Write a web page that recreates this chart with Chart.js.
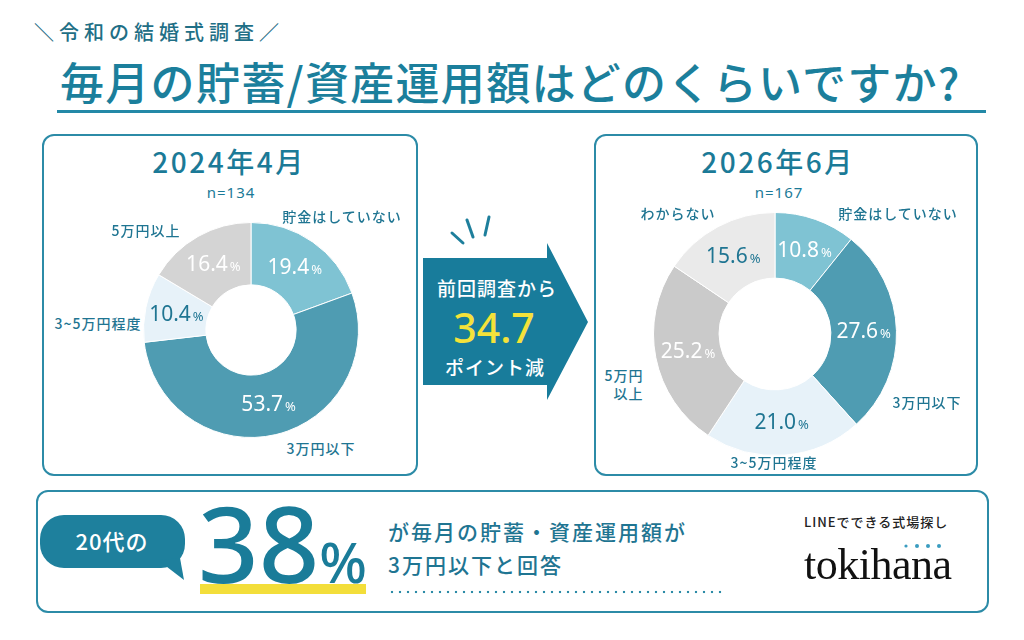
<!DOCTYPE html>
<html lang="ja">
<head>
<meta charset="UTF-8">
<title>毎月の貯蓄/資産運用額はどのくらいですか?</title>
<script src="https://cdn.jsdelivr.net/npm/chart.js"></script>
<style>
    body {
        margin: 0;
        background: #fff;
        font-family: "Noto Sans CJK JP", "Noto Sans", sans-serif;
        color: #1f7592;
    }

    #page {
        position: relative;
        width: 1024px;
        height: 640px;
        overflow: hidden;
    }

    .abs { position: absolute; white-space: nowrap; line-height: 1.05; }
    .c { transform: translate(-50%, -50%); }
    .lm { transform: translate(0, -50%); }

    .box {
        position: absolute;
        border: 2px solid #2c8ba7;
        border-radius: 12px;
        box-sizing: border-box;
    }

    .cat {
        font-size: 14px;
        font-weight: 500;
        letter-spacing: 1px;
        line-height: 18px;
    }

    .year {
        font-size: 28px;
        font-weight: 500;
        letter-spacing: 2.5px;
        line-height: 1;
        color: #1b7a97;
    }

    .n {
        font-family: "Noto Sans", sans-serif;
        font-size: 15px;
        letter-spacing: 1px;
        line-height: 1;
        color: #1b7a97;
    }

    .chartBox { position: absolute; }
</style>
</head>
<body>
<div id="page">
    <div class="abs lm" style="left:34px; top:31px; font-size:20px; font-weight:500; letter-spacing:5px; color:#1f6f86;">＼令和の結婚式調査／</div>
    <div class="abs lm" style="left:60px; top:81px; font-size:44px; font-weight:500; letter-spacing:1.3px; color:#1b7f9c;">毎月の貯蓄/資産運用額はどのくらいですか?</div>
    <div class="abs" style="left:57px; top:110px; width:929px; height:3px; background:#2389a7;"></div>

    <!-- left panel -->
    <div class="box" style="left:42px; top:134px; width:376px; height:342px;"></div>
    <div class="abs c year" style="left:229px; top:161px;">2024年4月</div>
    <div class="abs c n" style="left:231px; top:192px;">n=134</div>
    <div class="chartBox" style="left:143px; top:222px; width:216px; height:216px;"><canvas id="leftChart"></canvas></div>
    <div class="abs c cat" style="left:342px; top:216px;">貯金はしていない</div>
    <div class="abs c cat" style="left:321px; top:448px;">3万円以下</div>
    <div class="abs c cat" style="left:98px; top:323px;">3~5万円程度</div>
    <div class="abs c cat" style="left:146px; top:230px;">5万円以上</div>

    <!-- arrow -->
    <svg class="abs" style="left:410px; top:200px;" width="190" height="210">
        <polygon points="13,58 137,58 137,43 178,122 137,200 137,185 13,185" fill="#187c9b"/>
        <g stroke="#1e7f9c" stroke-width="3" stroke-linecap="round">
            <line x1="42" y1="33" x2="53" y2="43"/>
            <line x1="57" y1="20" x2="63" y2="37"/>
            <line x1="79" y1="17" x2="75" y2="35"/>
        </g>
    </svg>
    <div class="abs c" style="left:497px; top:287px; font-size:19px; font-weight:500; letter-spacing:1px; line-height:1; color:#fff;">前回調査から</div>
    <div class="abs c" style="left:494px; top:327px; font-family:'Noto Sans',sans-serif; font-size:41px; font-weight:500; line-height:1; color:#f4e23a;">34.7</div>
    <div class="abs c" style="left:495px; top:366px; font-size:19px; font-weight:500; letter-spacing:1px; line-height:1; color:#fff;">ポイント減</div>

    <!-- right panel -->
    <div class="box" style="left:594px; top:134px; width:384px; height:342px;"></div>
    <div class="abs c year" style="left:778px; top:161px;">2026年6月</div>
    <div class="abs c n" style="left:779px; top:192px;">n=167</div>
    <div class="chartBox" style="left:653px; top:212px; width:244px; height:244px;"><canvas id="rightChart"></canvas></div>
    <div class="abs c cat" style="left:898px; top:213px;">貯金はしていない</div>
    <div class="abs c cat" style="left:927px; top:402px;">3万円以下</div>
    <div class="abs c cat" style="left:774px; top:462px;">3~5万円程度</div>
    <div class="abs c cat" style="left:624px; top:384px; text-align:right;">5万円<br>以上</div>
    <div class="abs c cat" style="left:678px; top:213px;">わからない</div>

    <!-- bottom panel -->
    <div class="box" style="left:36px; top:490px; width:953px; height:123px;"></div>
    <div class="abs" style="left:40px; top:515px; width:145px; height:53px; border-radius:24px; background:#1e809d;"></div>
    <svg class="abs" style="left:150px; top:550px;" width="40" height="35">
        <polygon points="8,10 30,8 34,30" fill="#1e809d"/>
    </svg>
    <div class="abs c" style="left:112px; top:541px; font-size:22px; font-weight:500; letter-spacing:1px; color:#fff;">20代の</div>
    <div class="abs" style="left:200px; top:584px; width:166px; height:10px; background:#f3de3a;"></div>
    <div class="abs" style="left:198px; top:482px; font-family:'Noto Sans',sans-serif; font-size:106px; font-weight:500; line-height:120px; color:#1a7c99;">38<span style="font-size:56px;">%</span></div>
    <div class="abs lm" style="left:388px; top:531px; font-size:21px; font-weight:500; letter-spacing:2px;">が毎月の貯蓄・資産運用額が</div>
    <div class="abs lm" style="left:388px; top:564px; font-size:21px; font-weight:500; letter-spacing:2px;">3万円以下と回答</div>
    <div class="abs" style="left:388px; top:590px; width:336px; height:4px; background-image:radial-gradient(circle, #2c8ba7 1.2px, transparent 1.6px); background-size:8px 4px;"></div>
    <div class="abs lm" style="left:804px; top:522px; font-size:13px; font-weight:500; letter-spacing:1px; color:#222;">LINEでできる式場探し</div>
    <svg class="abs" style="left:900px; top:541px;" width="50" height="10">
        <g fill="#3a9cc0">
            <circle cx="6" cy="5" r="1.6"/>
            <circle cx="17" cy="5" r="2"/>
            <circle cx="28" cy="5" r="2"/>
            <circle cx="39" cy="5" r="2"/>
        </g>
    </svg>
    <div class="abs" style="left:804px; top:543px; font-family:'Liberation Serif',serif; font-size:44px; line-height:44px; letter-spacing:-0.5px; color:#111;">tokihana</div>
</div>

<script>
    const leftLabels = ['貯金はしていない', '3万円以下', '3~5万円程度', '5万円以上'];
    const leftValues = [19.4, 53.7, 10.4, 16.4];

    const rightLabels = ['貯金はしていない', '3万円以下', '3~5万円程度', '5万円以上', 'わからない'];
    const rightValues = [10.8, 27.6, 21.0, 25.2, 15.6];

    const leftColors = ['#7fc3d3', '#4f9cb2', '#e7f2f9', '#d4d4d4'];
    const leftTextColors = ['#fff', '#fff', '#1f7592', '#fff'];
    const rightColors = ['#7fc3d3', '#4f9cb2', '#e7f2f9', '#cacaca', '#eaeaea'];
    const rightTextColors = ['#fff', '#fff', '#1f7592', '#fff', '#1f7592'];

    // percentage text in the middle of each ring slice
    const pctLabels = {
        id: 'pctLabels',
        afterDatasetsDraw(chart, args, opts) {
            const ctx = chart.ctx;
            const meta = chart.getDatasetMeta(0);
            const values = chart.data.datasets[0].data;
            meta.data.forEach((arc, i) => {
                const p = arc.getProps(['x', 'y', 'startAngle', 'endAngle', 'innerRadius', 'outerRadius'], true);
                const a = (p.startAngle + p.endAngle) / 2;
                const r = (p.innerRadius + p.outerRadius) / 2;
                const x = p.x + Math.cos(a) * r;
                const y = p.y + Math.sin(a) * r;
                const num = values[i].toFixed(1);

                ctx.save();
                ctx.fillStyle = opts.colors[i];
                ctx.textAlign = 'left';
                ctx.textBaseline = 'alphabetic';
                ctx.font = '400 21px "Noto Sans"';
                const w1 = ctx.measureText(num).width;
                ctx.font = '400 13px "Noto Sans"';
                const w2 = ctx.measureText('%').width;
                const x0 = x - (w1 + w2 + 2) / 2;
                ctx.font = '400 21px "Noto Sans"';
                ctx.fillText(num, x0, y + 7);
                ctx.font = '400 13px "Noto Sans"';
                ctx.fillText('%', x0 + w1 + 2, y + 7);
                ctx.restore();
            });
        }
    };

    function makeDoughnut(id, labels, values, colors, textColors, cutout) {
        return new Chart(document.getElementById(id), {
            type: 'doughnut',
            data: {
                labels: labels,
                datasets: [{
                    data: values,
                    backgroundColor: colors,
                    borderColor: '#ffffff',
                    borderWidth: 1
                }]
            },
            options: {
                responsive: true,
                maintainAspectRatio: false,
                animation: false,
                events: [],
                cutout: cutout,
                layout: { padding: 0 },
                plugins: {
                    legend: { display: false },
                    tooltip: { enabled: false },
                    pctLabels: { colors: textColors }
                }
            },
            plugins: [pctLabels]
        });
    }

    makeDoughnut('leftChart', leftLabels, leftValues, leftColors, leftTextColors, '42%');
    makeDoughnut('rightChart', rightLabels, rightValues, rightColors, rightTextColors, '46%');
</script>
</body>
</html>
